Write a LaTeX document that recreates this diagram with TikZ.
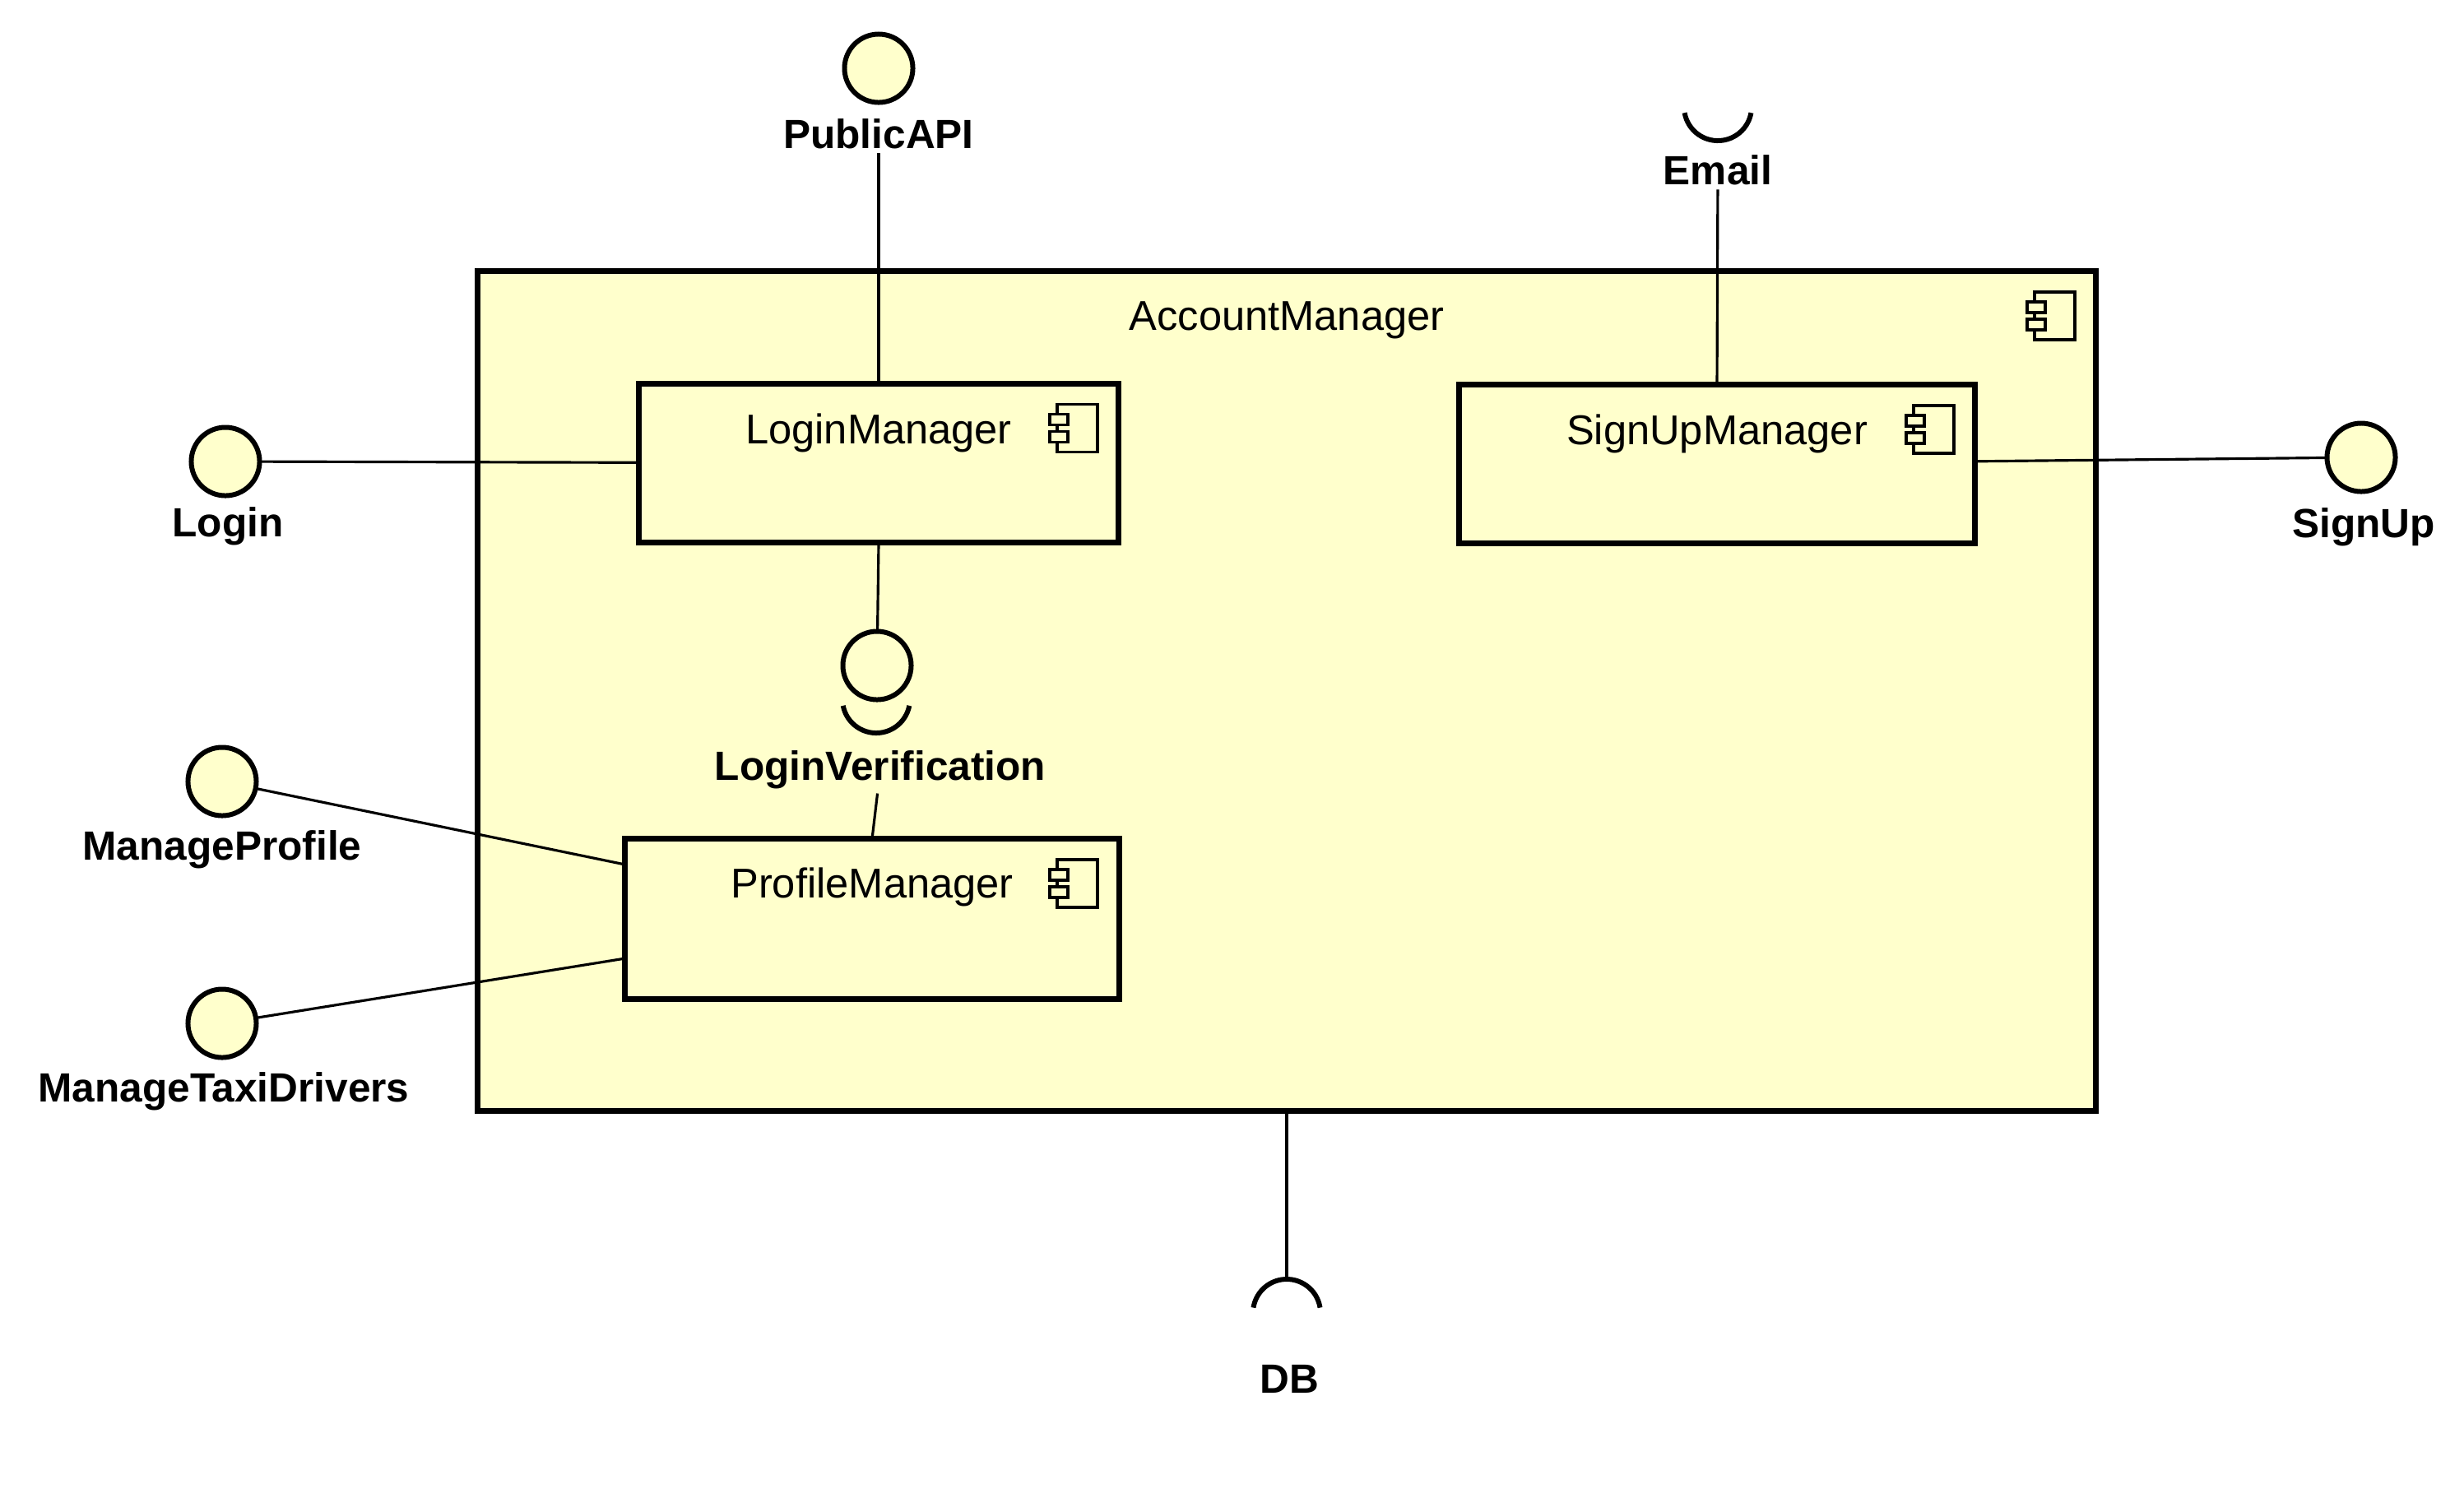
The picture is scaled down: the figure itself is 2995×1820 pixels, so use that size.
\documentclass[tikz,border=0pt]{standalone}
\usepackage{fontspec}
\setmainfont{Liberation Sans}
\usepackage{tikz}
\definecolor{umlyellow}{HTML}{FFFFCC}
\tikzset{
    comp/.style={draw, line width=2pt, fill=umlyellow, inner sep=0pt, outer sep=0pt},
    compname/.style={anchor=base, inner sep=1.5pt, font=\fontsize{14.4}{17}\selectfont},
    iface/.style={circle, draw, line width=1.7pt, fill=umlyellow, minimum size=0.83cm, inner sep=0pt, outer sep=0pt},
    iflbl/.style={anchor=base, inner sep=1.5pt, font=\bfseries\fontsize{14.1}{17}\selectfont},
    wire/.style={line width=0.9pt},
    socket/.style={line width=1.7pt},
    iconline/.style={line width=1.1pt},
}
\newcommand{\compicon}[1]{%
    \begin{scope}[shift={(#1)}, iconline]
        \draw (-75,25) rectangle (-26,83);
        \draw[fill=umlyellow] (-84,37) rectangle (-62,50);
        \draw[fill=umlyellow] (-84,58) rectangle (-62,71);
    \end{scope}}

\begin{document}
\begin{tikzpicture}[x=0.01cm, y=-0.01cm]
    \useasboundingbox (0,0) rectangle (2995,1820);

    \node[comp, minimum width=19.66cm, minimum height=10.20cm] (account) at (1564,840) {};
    \node[compname] (accountName) at ([yshift=-0.72cm]account.north) {AccountManager};
    \compicon{account.north east}

    \node[comp, minimum width=5.83cm, minimum height=1.93cm] (login) at (1068,563) {};
    \node[compname] (loginName) at ([yshift=-0.73cm]login.north) {LoginManager};
    \compicon{login.north east}

    \node[comp, minimum width=6.27cm, minimum height=1.92cm] (signup) at (2087,564) {};
    \node[compname] (signupName) at ([yshift=-0.72cm]signup.north) {SignUpManager};
    \compicon{signup.north east}

    \node[comp, minimum width=6.00cm, minimum height=1.94cm] (profile) at (1060,1117) {};
    \node[compname] (profileName) at ([yshift=-0.71cm]profile.north) {ProfileManager};
    \compicon{profile.north east}

    \node[iface] (publicapiIf) at (1068,83) {};
    \node[iflbl] (publicapiLbl) at (1068,180) {PublicAPI};
    \draw[wire] (publicapiLbl) -- (login.north);

    \coordinate (emailC) at (2088,130);
    \draw[socket] ([shift={(190:0.41cm)}]emailC) arc[start angle=190, end angle=350, radius=0.41cm];
    \node[iflbl] (emailLbl) at (2088,224) {Email};
    \draw[wire] (emailLbl) -- (signup.north);

    \node[iface] (loginIf) at (274,561) {};
    \node[iflbl] (loginLbl) at (277,652) {Login};
    \draw[wire] (loginIf) -- (login);

    \node[iface] (signupIf) at (2870,556) {};
    \node[iflbl] (signupLbl) at (2873,653) {SignUp};
    \draw[wire] (signup) -- (signupIf);

    \coordinate (verifyC) at (1065,850);
    \draw[socket] ([shift={(191:0.41cm)}]verifyC) arc[start angle=191, end angle=349, radius=0.41cm];
    \node[iface] (verifyIf) at (1066,809) {};
    \node[iflbl] (verifyLbl) at (1070,948) {LoginVerification};
    \draw[wire] (login.south) -- (verifyIf);
    \draw[wire] (verifyLbl) -- (profile.north);

    \node[iface] (manageprofileIf) at (270,950) {};
    \node[iflbl] (manageprofileLbl) at (270,1045) {ManageProfile};
    \draw[wire] (manageprofileIf) -- ([yshift=0.66cm]profile.west);

    \node[iface] (managetaxiIf) at (270,1244) {};
    \node[iflbl] (managetaxiLbl) at (272,1339) {ManageTaxiDrivers};
    \draw[wire] (managetaxiIf) -- ([yshift=-0.48cm]profile.west);

    \coordinate (dbC) at (1564,1596);
    \coordinate (dbTop) at (1564,1555);
    \draw[socket] ([shift={(9:0.41cm)}]dbC) arc[start angle=9, end angle=171, radius=0.41cm];
    \node[iflbl] (dbLbl) at (1567,1693) {DB};
    \draw[wire] (account.south) -- (dbTop);
\end{tikzpicture}
\end{document}
